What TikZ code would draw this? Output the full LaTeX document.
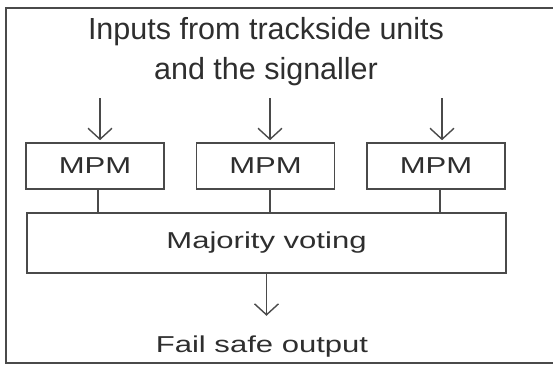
\documentclass[tikz,border=0pt]{standalone}
\usepackage{fontspec}
\setmainfont{Liberation Sans}
\newfontfamily\widefont{Liberation Sans}[FakeStretch=1.35]
\usepackage{tikz}
\usetikzlibrary{arrows.meta}
\usetikzlibrary{positioning}

\definecolor{linegray}{HTML}{4A4A4A}
\definecolor{textgray}{HTML}{2E2E2E}

\tikzset{
  box/.style={draw=linegray, line width=1.6pt, rectangle, inner sep=0pt,
    text=textgray, font=\widefont\fontsize{23}{28}\selectfont},
  link/.style={draw=linegray, line width=1.6pt},
  arr/.style={link, -{Straight Barb[length=11pt, width=24pt, line width=1.4pt]}}
}

\begin{document}
\begin{tikzpicture}[x=1pt, y=-1pt]
  \useasboundingbox (0,0) rectangle (553,365);

  % outer frame, right side runs off the page
  \draw[line width=2.2pt, draw=linegray] (6,8) rectangle (570,363);

  \node[text=textgray, align=center, font=\fontsize{30.5}{40}\selectfont]
    (title) at (266,52) {Inputs from trackside units\\and the signaller};

  \node[box, minimum width=479pt, minimum height=60pt] (vote) at (266.5,243) {Majority voting};

%%%%%%%%%%%% MPM units
  \foreach \i/\cx/\ax/\lx in {1/95/100/98, 2/265.5/270/270, 3/436/442/440} {
    \node[box, minimum width=138pt, minimum height=46pt] (mpm\i) at (\cx,166) {MPM};
    \coordinate (in\i) at (\ax,98);
    \coordinate (tap\i) at (\lx,166);
    \draw[arr, shorten >=2pt] (in\i) -- (in\i |- mpm\i.north);
    \draw[link] (tap\i |- mpm\i.south) -- (tap\i |- vote.north);
  }

  \node[text=textgray, font=\widefont\fontsize{23}{28}\selectfont]
    (out) at (262,347) {Fail safe output};
  \draw[arr, shorten >=17pt] (vote.south) -- (vote.south |- out.north);
\end{tikzpicture}
\end{document}
